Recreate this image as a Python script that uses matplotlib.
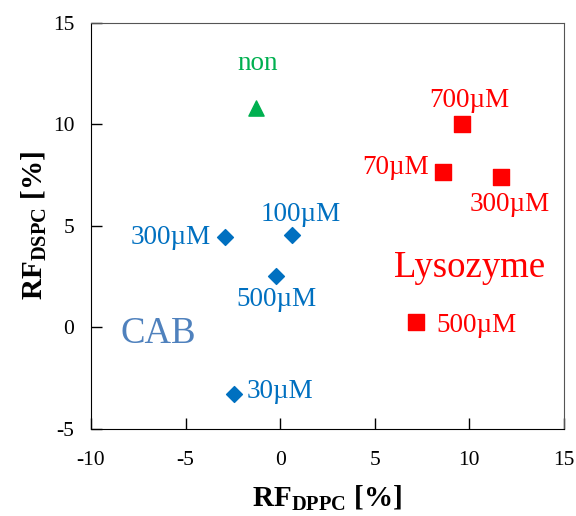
import matplotlib.pyplot as plt

plt.rcParams["mathtext.fontset"] = "custom"
plt.rcParams["mathtext.rm"] = "Liberation Serif"
plt.rcParams["mathtext.bf"] = "Liberation Serif:bold"
plt.rcParams["axes.unicode_minus"] = False
plt.rcParams["xtick.direction"] = "in"
plt.rcParams["ytick.direction"] = "in"
plt.rcParams["xtick.major.size"] = 8
plt.rcParams["ytick.major.size"] = 8
plt.rcParams["xtick.major.width"] = 1
plt.rcParams["ytick.major.width"] = 1
plt.rcParams["xtick.major.pad"] = 16
plt.rcParams["ytick.major.pad"] = 12
plt.rcParams["xtick.labelsize"] = 15.5
plt.rcParams["ytick.labelsize"] = 15.5

# CAB (blue diamonds)
cab_x = [-2.92, 0.62, -0.22, -2.44]
cab_y = [4.45, 4.55, 2.52, -3.27]
cab_lab = ["300µM", "100µM", "500µM", "30µM"]

# Lysozyme (red squares)
lys_x = [9.61, 8.6, 11.67, 7.18]
lys_y = [10.0, 7.67, 7.43, 0.25]
lys_lab = ["700µM", "70µM", "300µM", "500µM"]

# no additive
non_x = [-1.28]
non_y = [10.8]

blue = "#0070C0"
red = "#FF0000"
green = "#00B050"
serif = "Liberation Serif"

fig = plt.figure(figsize=(5.76, 5.16), dpi=100)
ax = fig.add_axes([0.158, 0.1686, 0.821, 0.787])

ax.scatter(cab_x, cab_y, marker="D", s=65, color=blue, zorder=3)
ax.scatter(lys_x, lys_y, marker="s", s=120, color=red, zorder=3)
ax.scatter(non_x, non_y, marker="^", s=120, color=green, zorder=3)

# label offsets in points (dx, dy, ha)
cab_off = [(-10, 0, "right"), (6.5, 14.5, "center"),
           (0, -16.5, "center"), (9, 2, "left")]
lys_off = [(5, 17, "center"), (-10, 3, "right"),
           (6.5, -20, "center"), (15, -2, "left")]

for x, y, t, (dx, dy, ha) in zip(cab_x, cab_y, cab_lab, cab_off):
    ax.annotate(t, (x, y), xytext=(dx, dy), textcoords="offset points",
                ha=ha, va="center", color=blue, fontsize=19.5, family=serif)
for x, y, t, (dx, dy, ha) in zip(lys_x, lys_y, lys_lab, lys_off):
    ax.annotate(t, (x, y), xytext=(dx, dy), textcoords="offset points",
                ha=ha, va="center", color=red, fontsize=19.5, family=serif)
ax.annotate("non", (non_x[0], non_y[0]), xytext=(1, 32), textcoords="offset points",
            ha="center", va="center", color=green, fontsize=19.5, family=serif)

ax.text(-6.46, -0.3, "CAB", color="#4F81BD", fontsize=26.5, family=serif,
        ha="center", va="center")
ax.text(10.03, 2.95, "Lysozyme", color=red, fontsize=26.5, family=serif,
        ha="center", va="center")

ax.set_xlim(-10, 15)
ax.set_ylim(-5, 15)
ax.set_xticks([-10, -5, 0, 5, 10, 15])
ax.set_yticks([-5, 0, 5, 10, 15])
for lb in ax.get_xticklabels() + ax.get_yticklabels():
    lb.set_family(serif)
for sp in ax.spines.values():
    sp.set_color("#555555")
ax.spines["left"].set_color("black")
ax.spines["bottom"].set_color("black")

ax.set_xlabel(r"RF$_{\mathbf{DPPC}}$ [%]", fontsize=21, fontweight="bold",
              family=serif, labelpad=9)
ax.set_ylabel(r"RF$_{\mathbf{DSPC}}$ [%]", fontsize=21, fontweight="bold",
              family=serif, labelpad=3)

fig.savefig("out.png", dpi=100)
